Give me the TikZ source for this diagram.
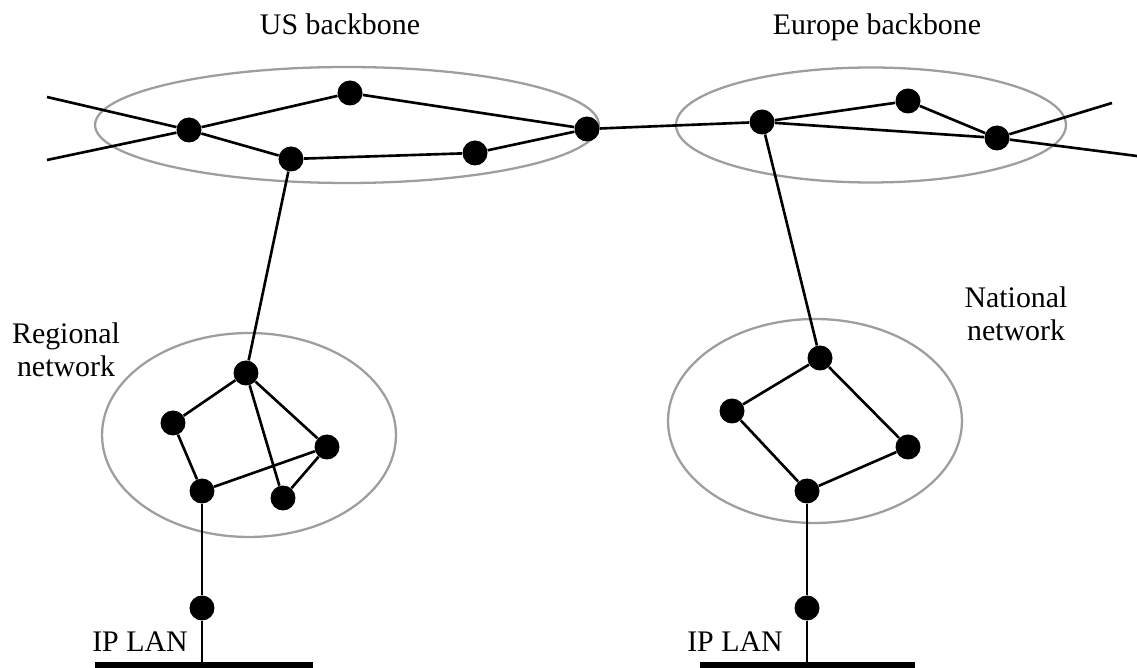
\documentclass[tikz,border=0pt]{standalone}
\usepackage{fontspec}
\setmainfont{Liberation Serif}
\usetikzlibrary{positioning}
\tikzset{
    router/.style={circle, fill=black, inner sep=0pt, minimum size=0.5cm},
    link/.style={line width=1.5pt},
    cloud/.style={draw=black!38, line width=1.3pt},
    lan/.style={line width=3.4pt},
    netlabel/.style={font=\fontsize{17}{19}\selectfont, align=center, inner sep=0pt},
}

\begin{document}
\begin{tikzpicture}[x=0.02cm, y=-0.02cm]
    \useasboundingbox (0,0) rectangle (1137,668);

    % Clouds
    \draw[cloud] (347,125) ellipse [x radius=5.04cm, y radius=1.16cm];
    \draw[cloud] (871,125) ellipse [x radius=3.9cm, y radius=1.15cm];
    \draw[cloud] (249,435) ellipse [x radius=2.94cm, y radius=2.04cm];
    \draw[cloud] (815,421) ellipse [x radius=2.94cm, y radius=2.04cm];

    % Labels
    \node[netlabel, anchor=base] (uslabel) at (340,35) {US backbone};
    \node[netlabel, anchor=base] (eulabel) at (877,35) {Europe backbone};
    \node[netlabel] (reglabel) at (66,350) {Regional\\network};
    \node[netlabel] (natlabel) at (1016,314) {National\\network};
    \node[netlabel, anchor=base] (lanlabelA) at (140,652) {IP LAN};
    \node[netlabel, anchor=base] (lanlabelB) at (735,652) {IP LAN};

    % US backbone
    \node[router] (usA) at (189,130) {};
    \node[router] (usB) at (350,93) {};
    \node[router] (usC) at (291,159) {};
    \node[router] (usD) at (475,153) {};
    \node[router] (usE) at (587,129) {};
    \coordinate (usW1) at (47,97);
    \coordinate (usW2) at (47,160);

    % Europe backbone
    \node[router] (euF) at (762,122) {};
    \node[router] (euG) at (908,101) {};
    \node[router] (euH) at (997,138) {};
    \coordinate (euE1) at (1112,103);
    \coordinate (euE2) at (1137,156);

    % Regional network
    \node[router] (regA) at (246,373) {};
    \node[router] (regB) at (173,423) {};
    \node[router] (regC) at (327,447) {};
    \node[router] (regD) at (202,491) {};
    \node[router] (regE) at (283,498) {};

    % National network
    \node[router] (natA) at (820,358) {};
    \node[router] (natB) at (732,411) {};
    \node[router] (natC) at (908,447) {};
    \node[router] (natD) at (807,491) {};

    % LANs
    \node[router] (gwA) at (202,608) {};
    \node[router] (gwB) at (807,608) {};
    \coordinate (lanA1) at (95,665);
    \coordinate (lanA2) at (313,665);
    \coordinate (tapA) at (202,665);
    \coordinate (lanB1) at (700,665);
    \coordinate (lanB2) at (915,665);
    \coordinate (tapB) at (807,665);

    % Links
    \draw[link] (usW1) -- (usA) -- (usC) -- (usD) -- (usE) -- (usB) -- (usA) -- (usW2);
    \draw[link] (usE) -- (euF) -- (euG) -- (euH) -- (euE1);
    \draw[link] (euF) -- (euH) -- (euE2);
    \draw[link] (usC) -- (regA);
    \draw[link] (euF) -- (natA);
    \draw[link] (regA) -- (regB) -- (regD) -- (regC) -- (regA) -- (regE) -- (regC);
    \draw[link] (natA) -- (natB) -- (natD) -- (natC) -- (natA);
    \draw[link] (regD) -- (gwA) -- (tapA);
    \draw[link] (natD) -- (gwB) -- (tapB);
    \draw[lan] (lanA1) -- (lanA2);
    \draw[lan] (lanB1) -- (lanB2);

\end{tikzpicture}
\end{document}
